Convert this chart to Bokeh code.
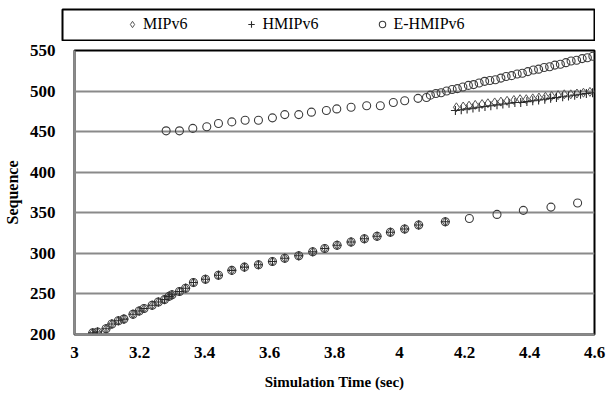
from bokeh.plotting import figure
from bokeh.models import Legend, LegendItem, FixedTicker, Range1d, Spacer
from bokeh.layouts import column, row
from bokeh.embed import file_html
from bokeh.resources import INLINE

# ---- data ----
x_ticks = [3.0, 3.2, 3.4, 3.6, 3.8, 4.0, 4.2, 4.4, 4.6]
x_tick_labels = ["3", "3.2", "3.4", "3.6", "3.8", "4", "4.2", "4.4", "4.6"]
y_ticks = [200, 250, 300, 350, 400, 450, 500, 550]

# lower branch shared by all three protocols
low_x = [3.056, 3.071, 3.097, 3.115, 3.135, 3.152, 3.180, 3.199, 3.214, 3.239,
         3.258, 3.277, 3.291, 3.300, 3.323, 3.342, 3.366, 3.403, 3.443, 3.484,
         3.523, 3.566, 3.609, 3.647, 3.690, 3.733, 3.770, 3.808, 3.851, 3.892,
         3.931, 3.972, 4.016, 4.059, 4.141]
low_y = [202, 203, 207, 213, 217, 219, 225, 229, 232, 236,
         240, 243, 247, 249, 253, 257, 264, 268, 273, 279,
         283, 286, 290, 294, 297, 302, 306, 310, 314, 318,
         321, 326, 330, 335, 339]

mip_up_x = [4.175, 4.196, 4.214, 4.233, 4.254, 4.272, 4.293, 4.312, 4.331, 4.352,
            4.371, 4.390, 4.410, 4.429, 4.449, 4.468, 4.488, 4.507, 4.527, 4.546,
            4.566, 4.586]
mip_up_y = [480, 481, 482, 483, 484, 485, 486, 487, 488, 489,
            490, 490, 491, 492, 493, 494, 495, 496, 496, 497,
            498, 499]

hmip_up_x = [4.172, 4.190, 4.208, 4.226, 4.245, 4.263, 4.281, 4.300, 4.318, 4.337,
             4.355, 4.373, 4.392, 4.410, 4.428, 4.447, 4.465, 4.483, 4.502, 4.520,
             4.539, 4.557, 4.575, 4.594]
hmip_up_y = [476, 477, 478, 479, 480, 481, 482, 483, 484, 485,
             486, 486, 487, 488, 489, 490, 491, 492, 493, 494,
             495, 496, 497, 498]

ehmip_tail_x = [4.215, 4.300, 4.381, 4.466, 4.548]
ehmip_tail_y = [343, 348, 353, 357, 362]

ehmip_up_x = [3.282, 3.323, 3.364, 3.407, 3.443, 3.484, 3.525, 3.566, 3.609, 3.647,
              3.690, 3.729, 3.775, 3.807, 3.851, 3.899, 3.941, 3.981, 4.016, 4.057,
              4.083, 4.095, 4.112, 4.128, 4.145, 4.162, 4.178, 4.195, 4.212, 4.228,
              4.245, 4.262, 4.278, 4.295, 4.312, 4.328, 4.345, 4.362, 4.378, 4.395,
              4.412, 4.428, 4.445, 4.462, 4.478, 4.495, 4.512, 4.528, 4.545, 4.562,
              4.578, 4.595]
ehmip_up_y = [451, 451, 454, 456, 460, 462, 464, 464, 467, 471,
              471, 474, 476, 478, 480, 482, 482, 486, 488, 491,
              492, 495, 497, 498, 500, 502, 503, 505, 507, 508,
              510, 512, 513, 514, 516, 518, 519, 521, 522, 524,
              526, 527, 529, 530, 532, 533, 535, 537, 538, 540,
              541, 543]

mip_x = low_x + mip_up_x
mip_y = low_y + mip_up_y
hmip_x = low_x + hmip_up_x
hmip_y = low_y + hmip_up_y
ehmip_x = low_x + ehmip_tail_x + ehmip_up_x
ehmip_y = low_y + ehmip_tail_y + ehmip_up_y

series_names = ["MIPv6", "HMIPv6", "E-HMIPv6"]
series_data = {"MIPv6": (mip_x, mip_y), "HMIPv6": (hmip_x, hmip_y),
               "E-HMIPv6": (ehmip_x, ehmip_y)}

# ---- styles ----
SERIF = "Liberation Serif"
GRID = "#8a8a8a"
MARK = "#3c3c3c"
styles = {
    "MIPv6": dict(marker="diamond", size=9, fill_color=None, line_color="#555555", line_width=1.0),
    "HMIPv6": dict(marker="cross", size=9, line_color="#2a2a2a", line_width=1.1),
    "E-HMIPv6": dict(marker="circle", size=8, fill_color=None, line_color=MARK, line_width=1.1),
}

# ---- main figure ----
p = figure(width=608, height=352, x_range=Range1d(3, 4.6), y_range=Range1d(200, 550),
           output_backend="svg", toolbar_location=None,
           min_border_left=71, min_border_right=14, min_border_top=9, min_border_bottom=59)

p.background_fill_color = "white"
p.border_fill_color = "white"
p.outline_line_color = "black"
p.outline_line_width = 2
p.xgrid.visible = False
p.ygrid.grid_line_color = GRID
p.ygrid.grid_line_width = 2

p.xaxis.ticker = FixedTicker(ticks=x_ticks)
p.xaxis.major_label_overrides = {t: s for t, s in zip(x_ticks, x_tick_labels)}
p.yaxis.ticker = FixedTicker(ticks=y_ticks)

for ax in (p.xaxis[0], p.yaxis[0]):
    ax.axis_line_color = GRID
    ax.axis_line_width = 2
    ax.major_tick_line_color = None
    ax.minor_tick_line_color = None
    ax.major_label_text_font = SERIF
    ax.major_label_text_font_style = "bold"
    ax.major_label_text_font_size = "17px"
    ax.major_label_text_color = "black"
    ax.axis_label_text_font = SERIF
    ax.axis_label_text_font_style = "bold"
    ax.axis_label_text_color = "black"

p.xaxis.major_label_standoff = 6
p.yaxis.major_label_standoff = 13
p.xaxis.axis_label = "Simulation Time (sec)"
p.xaxis.axis_label_text_font_size = "15px"
p.xaxis.axis_label_standoff = 13
p.yaxis.axis_label = "Sequence"
p.yaxis.axis_label_text_font_size = "16px"
p.yaxis.axis_label_standoff = 6

for name in ["E-HMIPv6", "MIPv6", "HMIPv6"]:
    xs, ys = series_data[name]
    p.scatter(xs, ys, **styles[name])

# ---- legend strip (boxed, above the plot) ----
lg = figure(width=534, height=33, x_range=Range1d(0, 1), y_range=Range1d(0, 1),
            output_backend="svg", toolbar_location=None,
            x_axis_location=None, y_axis_location=None,
            min_border_left=1, min_border_right=1, min_border_top=1, min_border_bottom=1)
lg.xgrid.visible = False
lg.ygrid.grid_line_color = None
lg.outline_line_color = "black"
lg.outline_line_width = 2
lg.background_fill_color = "white"
lg.border_fill_color = "white"

items = []
for name in series_names:
    xs, ys = series_data[name]
    r = lg.scatter(xs, ys, **styles[name])  # lies outside this strip's range; used for the key
    items.append(LegendItem(label=name, renderers=[r]))

legend = Legend(items=items, orientation="horizontal", location=(62, 6),
                padding=0, margin=0, spacing=56,
                glyph_width=16, glyph_height=20, label_height=20, label_standoff=3,
                label_text_font=SERIF, label_text_font_size="16px",
                label_text_color="black",
                border_line_alpha=0, background_fill_alpha=0)
lg.add_layout(legend)

layout = column(Spacer(width=608, height=8),
                row(Spacer(width=61, height=33), lg),
                p, spacing=0)

open("out.html", "w").write(file_html(layout, INLINE))
